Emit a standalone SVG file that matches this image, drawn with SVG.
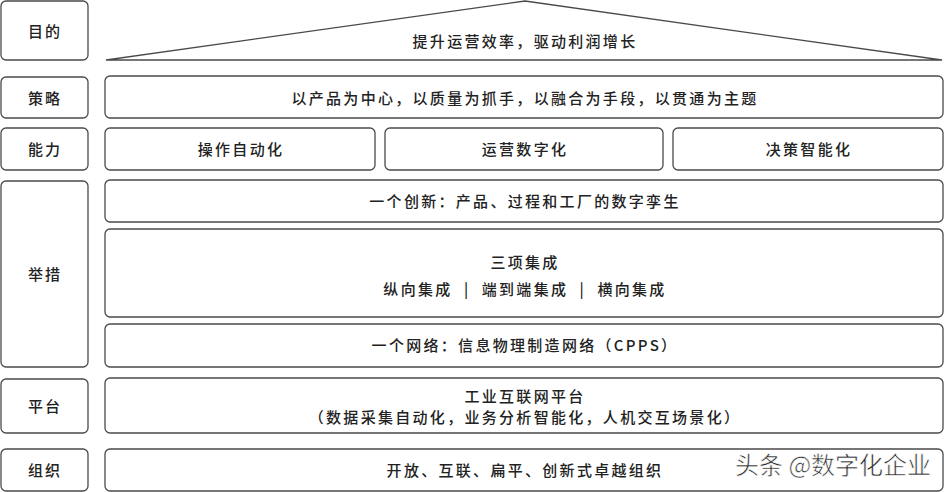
<svg xmlns="http://www.w3.org/2000/svg" width="948" height="492" viewBox="0 0 948 492">
<style>
.box{fill:#fff;stroke:#4a4a4a;stroke-width:1.3}
.t{font-family:"Noto Sans CJK SC","Liberation Sans",sans-serif;font-size:15px;fill:#222;text-anchor:middle;letter-spacing:2.3px;font-weight:500}
.l{font-family:"Noto Sans CJK SC","Liberation Sans",sans-serif;font-size:15px;fill:#222;text-anchor:middle;letter-spacing:2px;font-weight:500}
.wm{font-family:"Noto Sans CJK SC","Liberation Sans",sans-serif;font-size:24px;fill:#2a2a2a;stroke:#fff;stroke-width:0.6}
</style>
<rect width="948" height="492" fill="#fff"/>
<g id="label-mudi"><rect class="box" x="1" y="1" width="87" height="59" rx="5"/><text class="l" x="45" y="37">目的</text></g>
<g id="label-celue"><rect class="box" x="1" y="77" width="87" height="41" rx="5"/><text class="l" x="45" y="104">策略</text></g>
<g id="label-nengli"><rect class="box" x="1" y="128" width="87" height="42" rx="5"/><text class="l" x="45" y="155">能力</text></g>
<g id="label-juzuo"><rect class="box" x="1" y="181" width="87" height="186" rx="5"/><text class="l" x="45" y="280">举措</text></g>
<g id="label-pingtai"><rect class="box" x="1" y="379" width="87" height="54" rx="5"/><text class="l" x="45" y="412">平台</text></g>
<g id="label-zuzhi"><rect class="box" x="1" y="449" width="87" height="42" rx="5"/><text class="l" x="45" y="476">组织</text></g>

<g id="goal"><polygon points="106,60 525,1 942,60" fill="#fff" stroke="#4a4a4a" stroke-width="1.3" stroke-linejoin="miter"/><text class="t" x="525" y="47">提升运营效率，驱动利润增长</text></g>
<g id="strategy"><rect class="box" x="105" y="76" width="838" height="42" rx="5"/><text class="t" x="525" y="104">以产品为中心，以质量为抓手，以融合为手段，以贯通为主题</text></g>
<g id="cap1"><rect class="box" x="105" y="128" width="270" height="42" rx="5"/><text class="t" x="241" y="155">操作自动化</text></g>
<g id="cap2"><rect class="box" x="385" y="128" width="278" height="42" rx="5"/><text class="t" x="525" y="155">运营数字化</text></g>
<g id="cap3"><rect class="box" x="673" y="128" width="270" height="42" rx="5"/><text class="t" x="809" y="155">决策智能化</text></g>
<g id="twin"><rect class="box" x="105" y="180" width="838" height="42" rx="5"/><text class="t" x="525" y="207">一个创新：产品、过程和工厂的数字孪生</text></g>
<g id="integration"><rect class="box" x="105" y="229" width="838" height="88" rx="5"/><text class="t" x="525" y="268">三项集成</text><text class="t" x="525" y="295">纵向集成&#160;&#160;|&#160;&#160;端到端集成&#160;&#160;|&#160;&#160;横向集成</text></g>
<g id="network"><rect class="box" x="105" y="324" width="838" height="43" rx="5"/><text class="t" x="525" y="351">一个网络：信息物理制造网络（CPPS）</text></g>
<g id="platform"><rect class="box" x="105" y="378" width="838" height="55" rx="5"/><text class="t" x="525" y="402">工业互联网平台</text><text class="t" x="525" y="423">（数据采集自动化，业务分析智能化，人机交互场景化）</text></g>
<g id="org"><rect class="box" x="105" y="449" width="838" height="42" rx="5"/><text class="t" x="525" y="476">开放、互联、扁平、创新式卓越组织</text></g>
<g id="connectors"></g>
<text class="wm" x="735" y="474">头条 @数字化企业</text>
</svg>
